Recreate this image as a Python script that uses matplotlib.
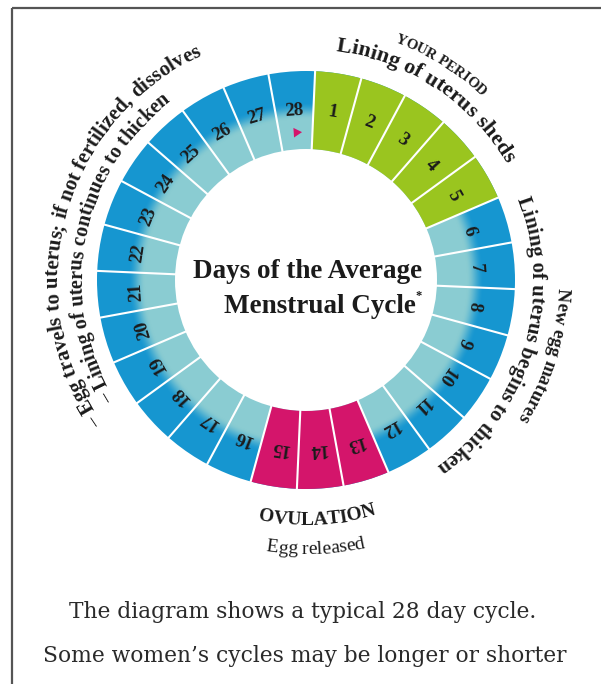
import numpy as np
import matplotlib
matplotlib.use("Agg")
import matplotlib.pyplot as plt
from matplotlib.patches import Wedge
from matplotlib.font_manager import FontProperties, findfont
from matplotlib.ft2font import FT2Font, LoadFlags

# ---------------- data ----------------
days = list(range(1, 29))
phases = ["period"] * 5 + ["cycle"] * 7 + ["ovulation"] * 3 + ["cycle"] * 13
title_lines = ["Days of the Average", "Menstrual Cycle"]
arc_labels = [
    "YOUR PERIOD",
    "Lining of uterus sheds",
    "Lining of uterus begins to thicken",
    "New egg matures",
    "\u2013 Egg travels to uterus; if not fertilized, dissolves",
    "\u2013 Lining of uterus continues to thicken",
]
bottom_labels = ["OVULATION", "Egg released"]
captions = ["The diagram shows a typical 28 day cycle.",
            "Some women\u2019s cycles may be longer or shorter"]

# ---------------- style ----------------
W, H = 601, 684
CX, CY = 306, H - 280
R_IN, R_OUT, R_NUM = 131, 209, 170
START = 87.5
STEP = 360 / 28
DARK = np.array([22, 150, 208]) / 255
LIGHT = np.array([138, 204, 210]) / 255
GREEN = "#9ac51f"
PINK = "#d4156b"
TXT = "#1b1b1b"
SERIF = "Liberation Serif"
phase_color = {"period": GREEN, "ovulation": PINK}

fig = plt.figure(figsize=(W / 100, H / 100), dpi=100)
ax = fig.add_axes([0, 0, 1, 1])
ax.set_xlim(0, W)
ax.set_ylim(0, H)
ax.axis("off")

# border
ax.plot([12, 12], [0, H - 8], color="#555555", lw=1.6, solid_capstyle="butt")
ax.plot([12, W], [H - 8, H - 8], color="#555555", lw=1.6, solid_capstyle="butt")

# ring gradient (outer dark blue -> inner light teal)
x0, x1 = CX - R_OUT - 2, CX + R_OUT + 2
y0, y1 = CY - R_OUT - 2, CY + R_OUT + 2
gx, gy = np.meshgrid(np.arange(x0, x1) + 0.5, np.arange(y0, y1) + 0.5)
rr = np.hypot(gx - CX, gy - CY)
t = np.clip((R_OUT - rr) / (R_OUT - R_IN), 0, 1)
s = np.clip((t - 0.40) / 0.22, 0, 1)
s = s * s * (3 - 2 * s)
img = DARK[None, None, :] * (1 - s[..., None]) + LIGHT[None, None, :] * s[..., None]
im = ax.imshow(img, extent=[x0, x1, y0, y1], origin="lower", interpolation="bilinear", zorder=1)
ring = Wedge((CX, CY), R_OUT, 0, 360, width=R_OUT - R_IN, fc="none", ec="none")
ax.add_patch(ring)
im.set_clip_path(ring)
ax.set_xlim(0, W)
ax.set_ylim(0, H)

# coloured phases
for i, ph in enumerate(phases):
    if ph in phase_color:
        t2 = START - STEP * i
        t1 = t2 - STEP
        ax.add_patch(Wedge((CX, CY), R_OUT, t1, t2, width=R_OUT - R_IN,
                           fc=phase_color[ph], ec="none", zorder=2))

# separators
for k in range(len(days)):
    a = np.radians(START - STEP * k)
    ax.plot([CX + (R_IN - 1) * np.cos(a), CX + (R_OUT + 1) * np.cos(a)],
            [CY + (R_IN - 1) * np.sin(a), CY + (R_OUT + 1) * np.sin(a)],
            color="white", lw=1.5, solid_capstyle="butt", zorder=3)

# day numbers
for i, d in enumerate(days):
    a = START - STEP * (i + 0.5)
    ar = np.radians(a)
    ax.text(CX + R_NUM * np.cos(ar), CY + R_NUM * np.sin(ar), str(d),
            rotation=a - 90, rotation_mode="anchor", ha="center", va="center",
            fontsize=13.5, fontweight="bold", family=SERIF, color=TXT, zorder=4)

# pink marker in last day
a = START - STEP * (len(days) - 0.5)
ar = np.radians(a)
ax.plot(CX + 148 * np.cos(ar), CY + 148 * np.sin(ar), marker=(3, 0, a - 180),
        ms=8, color=PINK, mec="none", zorder=4)


def advances(txt, family, size, weight):
    fp = FontProperties(family=family, size=size, weight=weight)
    f = FT2Font(findfont(fp))
    f.set_size(size, 100)
    out = []
    for c in txt:
        g = f.load_char(ord(c), flags=LoadFlags.NO_HINTING)
        out.append(g.linearHoriAdvance / 65536)
    return np.array(out)


def arc_text(txt, r, mid, size, weight="bold", outward=True, family=SERIF, color=TXT):
    adv = advances(txt, family, size, weight)
    centers = np.cumsum(adv) - adv / 2 - adv.sum() / 2
    for c, sc in zip(txt, centers):
        if c == " ":
            continue
        if outward:
            a = np.radians(mid) - sc / r
            rot = np.degrees(a) - 90
        else:
            a = np.radians(mid) + sc / r
            rot = np.degrees(a) + 90
        ax.text(CX + r * np.cos(a), CY + r * np.sin(a), c, rotation=rot,
                rotation_mode="anchor", ha="center", va="baseline",
                fontsize=size, fontweight=weight, family=family, color=color)


# curved annotations (radius, mid angle, size)
arc_text(arc_labels[0], 254, 58, 10.5)
arc_text(arc_labels[1], 231, 56.5, 16)
arc_text(arc_labels[2], 226, -17, 15)
arc_text(arc_labels[3], 252, -17.5, 13.5)
arc_text(arc_labels[4], 248, 165, 15)
arc_text(arc_labels[5], 224, 169.5, 14.5)
arc_text(bottom_labels[0], 245, -87.3, 14, outward=False)
arc_text(bottom_labels[1], 274, -88, 14, weight="normal", outward=False)

# centre title
ax.text(308, H - 278, title_lines[0], ha="center", va="baseline", fontsize=19.5,
        fontweight="bold", family=SERIF, color=TXT)
ax.text(320, H - 313, title_lines[1], ha="center", va="baseline", fontsize=19.5,
        fontweight="bold", family=SERIF, color=TXT)
w2 = advances(title_lines[1], SERIF, 19.5, "bold").sum()
ax.text(320 + w2 / 2 - 1, H - 299, "*", ha="left", va="baseline", fontsize=9,
        fontweight="bold", family=SERIF, color=TXT)

# captions
cap_size = 519 / advances(captions[1], "DejaVu Serif", 1, "normal").sum()
ax.text(303, H - 612, captions[0], ha="center", va="center", fontsize=cap_size,
        family="DejaVu Serif", color="#2a2a2a")
ax.text(305, H - 656, captions[1], ha="center", va="center", fontsize=cap_size,
        family="DejaVu Serif", color="#2a2a2a")

fig.savefig("out.png", dpi=100, facecolor="white")
